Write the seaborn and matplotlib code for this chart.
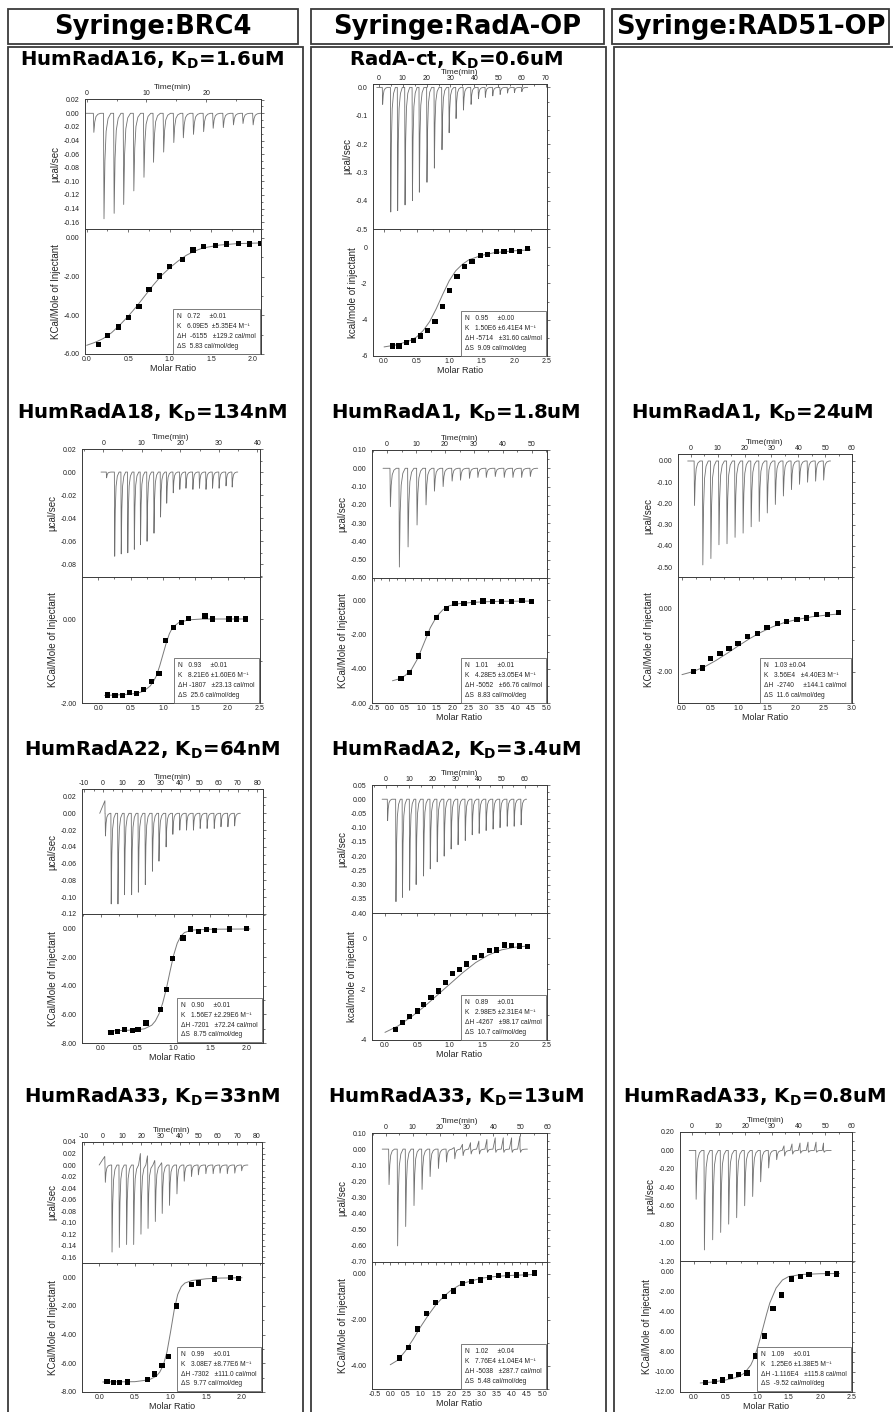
import matplotlib
matplotlib.use("Agg")
import matplotlib.pyplot as plt
import seaborn as sns
from matplotlib.patches import Rectangle
from matplotlib.ticker import FormatStrFormatter, MultipleLocator

W, H = 893, 1412

# ---------------- data ----------------
HEADERS = ["Syringe:BRC4", "Syringe:RadA-OP", "Syringe:RAD51-OP"]

# HumRadA16 (BRC4)
A16_T = [1.1, 2.8, 4.5, 6.1, 7.8, 9.5, 11.1, 12.8, 14.5, 16.1, 17.8, 19.5, 21.1, 22.8, 24.5, 26.1, 27.8]
A16_PEAK = [-0.028, -0.155, -0.147, -0.134, -0.114, -0.094, -0.072, -0.057, -0.043, -0.036, -0.031,
            -0.027, -0.022, -0.021, -0.017, -0.015, -0.017]
A16_RATIO = [0.14, 0.25, 0.38, 0.50, 0.63, 0.75, 0.88, 1.00, 1.15, 1.28, 1.41, 1.55, 1.68, 1.83, 1.96, 2.10]
A16_KCAL = [-5.50, -5.05, -4.60, -4.10, -3.54, -2.68, -1.97, -1.47, -1.10, -0.63, -0.46, -0.38, -0.32,
            -0.28, -0.32, -0.30]
A16_FIT_X = [0.0, 0.1, 0.2, 0.3, 0.4, 0.5, 0.6, 0.7, 0.8, 0.9, 1.0, 1.1, 1.2, 1.3, 1.4, 1.6, 1.8, 2.1]
A16_FIT_Y = [-5.55, -5.4, -5.2, -4.9, -4.5, -4.05, -3.55, -3.0, -2.45, -1.95, -1.55, -1.2, -0.9, -0.68,
             -0.52, -0.37, -0.3, -0.26]
A16_PARAMS = "N   0.72     ±0.01\nK   6.09E5  ±5.35E4 M⁻¹\nΔH  -6155   ±129.2 cal/mol\nΔS  5.83 cal/mol/deg"

# RadA-ct (RadA-OP)
RCT_T = [1.4, 4.8, 7.7, 10.8, 13.9, 16.8, 20.0, 23.1, 26.3, 29.3, 32.2, 35.3, 38.5, 41.6, 44.5, 47.6,
         50.7, 53.8, 56.7, 59.8]
RCT_PEAK = [-0.06, -0.44, -0.435, -0.415, -0.40, -0.37, -0.335, -0.285, -0.22, -0.16, -0.11, -0.08,
            -0.06, -0.04, -0.035, -0.03, -0.025, -0.02, -0.018, -0.015]
RCT_RATIO = [0.125, 0.23, 0.34, 0.45, 0.56, 0.67, 0.78, 0.90, 1.00, 1.12, 1.24, 1.35, 1.48, 1.59, 1.72,
             1.84, 1.96, 2.08, 2.20]
RCT_KCAL = [-5.45, -5.45, -5.25, -5.15, -4.9, -4.6, -4.1, -3.25, -2.4, -1.6, -1.05, -0.78, -0.45, -0.4,
            -0.25, -0.25, -0.17, -0.22, -0.08]
RCT_FIT_X = [0.0, 0.2, 0.4, 0.5, 0.6, 0.7, 0.8, 0.9, 1.0, 1.1, 1.2, 1.3, 1.5, 1.7, 2.0, 2.25]
RCT_FIT_Y = [-5.5, -5.38, -5.15, -4.95, -4.6, -4.1, -3.4, -2.6, -1.85, -1.3, -0.95, -0.7, -0.45, -0.3,
             -0.2, -0.15]
RCT_PARAMS = "N   0.95     ±0.00\nK   1.50E6 ±6.41E4 M⁻¹\nΔH -5714   ±31.60 cal/mol\nΔS  9.09 cal/mol/deg"

# HumRadA18 (BRC4)
A18_T = [0.8, 2.9, 4.6, 6.3, 8.0, 9.6, 11.3, 13.1, 14.8, 16.4, 18.1, 19.8, 21.4, 23.2, 24.9, 26.6, 28.3,
         30.0, 31.8, 33.4]
A18_PEAK = [-0.005, -0.073, -0.071, -0.070, -0.067, -0.063, -0.060, -0.053, -0.039, -0.027, -0.018,
            -0.015, -0.014, -0.015, -0.014, -0.015, -0.014, -0.014, -0.012, -0.013]
A18_RATIO = [0.14, 0.26, 0.37, 0.48, 0.59, 0.70, 0.82, 0.94, 1.04, 1.16, 1.29, 1.40, 1.65, 1.76, 2.02,
             2.14, 2.27]
A18_KCAL = [-1.81, -1.83, -1.83, -1.75, -1.77, -1.67, -1.49, -1.29, -0.52, -0.20, -0.09, 0.02, 0.07, 0.0,
            0.0, 0.0, 0.0]
A18_FIT_X = [0.1, 0.4, 0.6, 0.7, 0.8, 0.85, 0.9, 0.95, 1.0, 1.05, 1.1, 1.15, 1.25, 1.4, 1.6, 2.3]
A18_FIT_Y = [-1.82, -1.8, -1.77, -1.72, -1.6, -1.5, -1.35, -1.12, -0.85, -0.58, -0.35, -0.2, -0.08, -0.02,
             0.0, 0.0]
A18_PARAMS = "N   0.93     ±0.01\nK   8.21E6 ±1.60E6 M⁻¹\nΔH -1807   ±23.13 cal/mol\nΔS  25.6 cal/mol/deg"

# HumRadA1 (RadA-OP)
A1R_T = [1.0, 4.1, 7.1, 10.2, 13.3, 16.2, 19.2, 22.3, 25.2, 28.3, 31.2, 34.1, 37.2, 40.3, 43.3, 46.3, 49.3]
A1R_PEAK = [-0.21, -0.54, -0.43, -0.31, -0.20, -0.125, -0.10, -0.07, -0.065, -0.055, -0.05, -0.05,
            -0.045, -0.05, -0.05, -0.05, -0.045]
A1R_RATIO = [0.37, 0.65, 0.93, 1.20, 1.49, 1.80, 2.08, 2.37, 2.68, 2.97, 3.27, 3.56, 3.88, 4.21, 4.52]
A1R_KCAL = [-4.55, -4.22, -3.26, -1.94, -1.02, -0.48, -0.20, -0.18, -0.15, -0.04, -0.06, -0.07, -0.07,
            -0.02, -0.06]
A1R_FIT_X = [0.1, 0.3, 0.5, 0.7, 0.9, 1.1, 1.3, 1.5, 1.7, 1.9, 2.2, 2.6, 3.0, 3.5, 4.5]
A1R_FIT_Y = [-4.7, -4.6, -4.4, -4.05, -3.4, -2.5, -1.6, -0.95, -0.55, -0.32, -0.2, -0.13, -0.09, -0.06, -0.05]
A1R_PARAMS = "N   1.01     ±0.01\nK   4.28E5 ±3.05E4 M⁻¹\nΔH -5052   ±66.76 cal/mol\nΔS  8.83 cal/mol/deg"

# HumRadA1 (RAD51-OP)
A1S_T = [1.2, 4.3, 7.3, 10.3, 13.3, 16.3, 19.3, 22.3, 25.3, 28.3, 31.3, 34.3, 37.3, 40.3, 43.3, 46.3, 49.3]
A1S_PEAK = [-0.21, -0.49, -0.46, -0.395, -0.39, -0.36, -0.34, -0.31, -0.285, -0.245, -0.205, -0.165,
            -0.135, -0.11, -0.10, -0.095, -0.09]
A1S_RATIO = [0.21, 0.36, 0.51, 0.67, 0.83, 0.99, 1.16, 1.33, 1.50, 1.68, 1.85, 2.03, 2.20, 2.38, 2.57, 2.76]
A1S_KCAL = [-2.0, -1.89, -1.58, -1.43, -1.26, -1.12, -0.88, -0.79, -0.60, -0.48, -0.42, -0.34, -0.30,
            -0.20, -0.19, -0.13]
A1S_FIT_X = [0.0, 0.2, 0.4, 0.6, 0.8, 1.0, 1.2, 1.4, 1.6, 1.8, 2.0, 2.3, 2.6, 2.8]
A1S_FIT_Y = [-2.1, -2.0, -1.85, -1.65, -1.42, -1.18, -0.95, -0.75, -0.58, -0.45, -0.36, -0.26, -0.2, -0.17]
A1S_PARAMS = "N   1.03 ±0.04\nK   3.56E4   ±4.40E3 M⁻¹\nΔH  -2740     ±144.1 cal/mol\nΔS  11.6 cal/mol/deg"

# HumRadA22 (BRC4)
A22_T = [1.0, 4.0, 7.5, 10.9, 14.6, 18.1, 21.7, 25.4, 28.8, 32.5, 36.0, 39.6, 43.1, 46.7, 50.2, 53.8, 57.5,
         61.0, 64.6, 68.1]
A22_PEAK = [-0.027, -0.108, -0.108, -0.097, -0.097, -0.094, -0.085, -0.069, -0.057, -0.040, -0.025,
            -0.020, -0.020, -0.020, -0.018, -0.018, -0.018, -0.016, -0.016, -0.015]
A22_UP = [0.015] + [0.0] * 19
A22_RATIO = [0.14, 0.23, 0.33, 0.43, 0.51, 0.62, 0.82, 0.90, 0.99, 1.13, 1.23, 1.34, 1.45, 1.56, 1.77, 2.00]
A22_KCAL = [-7.25, -7.18, -7.07, -7.14, -7.07, -6.60, -5.63, -4.27, -2.07, -0.63, 0.0, -0.16, -0.05,
            -0.12, 0.0, 0.02]
A22_FIT_X = [0.1, 0.3, 0.5, 0.6, 0.7, 0.75, 0.8, 0.85, 0.9, 0.95, 1.0, 1.05, 1.1, 1.15, 1.25, 1.5, 2.05]
A22_FIT_Y = [-7.15, -7.12, -7.08, -7.0, -6.75, -6.45, -5.95, -5.2, -4.2, -3.0, -1.85, -1.0, -0.5, -0.25,
             -0.08, -0.02, 0.0]
A22_PARAMS = "N   0.90     ±0.01\nK   1.56E7 ±2.29E6 M⁻¹\nΔH -7201   ±72.24 cal/mol\nΔS  8.75 cal/mol/deg"

# HumRadA2 (RadA-OP)
A2_T = [0.6, 4.2, 7.0, 10.1, 12.9, 16.1, 19.0, 22.0, 25.0, 28.0, 31.0, 34.1, 37.1, 40.1, 43.1, 46.1, 49.1,
        52.2, 55.2, 58.2]
A2_PEAK = [-0.075, -0.36, -0.345, -0.32, -0.30, -0.27, -0.245, -0.22, -0.20, -0.175, -0.16, -0.145,
           -0.125, -0.12, -0.11, -0.105, -0.10, -0.095, -0.095, -0.09]
A2_RATIO = [0.16, 0.27, 0.38, 0.50, 0.60, 0.71, 0.82, 0.93, 1.04, 1.15, 1.26, 1.38, 1.49, 1.61, 1.72,
            1.84, 1.95, 2.08, 2.20]
A2_KCAL = [-3.58, -3.32, -3.08, -2.86, -2.61, -2.33, -2.07, -1.74, -1.37, -1.21, -1.01, -0.75, -0.68,
           -0.49, -0.46, -0.26, -0.28, -0.30, -0.33]
A2_FIT_X = [0.0, 0.2, 0.4, 0.6, 0.8, 1.0, 1.2, 1.4, 1.6, 1.8, 2.0, 2.2]
A2_FIT_Y = [-3.7, -3.45, -3.1, -2.7, -2.25, -1.8, -1.35, -0.95, -0.65, -0.45, -0.35, -0.3]
A2_PARAMS = "N   0.89     ±0.01\nK   2.98E5 ±2.31E4 M⁻¹\nΔH -4267   ±98.17 cal/mol\nΔS  10.7 cal/mol/deg"

# HumRadA33 (BRC4)
A33B_T = [1.0, 4.5, 8.3, 12.1, 15.8, 19.6, 23.3, 27.1, 30.7, 34.5, 38.4, 42.2, 46.0, 49.6, 53.5, 57.3,
          60.9, 64.7, 68.6, 72.2]
A33B_PEAK = [-0.030, -0.151, -0.143, -0.138, -0.138, -0.120, -0.110, -0.098, -0.084, -0.070, -0.050,
             -0.028, -0.020, -0.017, -0.015, -0.015, -0.014, -0.015, -0.014, -0.010]
A33B_UP = [0.015, 0.0, 0.0, 0.0, 0.0, 0.020, 0.016, 0.008, 0.004] + [0.0] * 11
A33B_RATIO = [0.11, 0.20, 0.29, 0.40, 0.68, 0.78, 0.88, 0.97, 1.08, 1.29, 1.39, 1.61, 1.84, 1.95]
A33B_KCAL = [-7.25, -7.33, -7.35, -7.30, -7.10, -6.75, -6.15, -5.50, -2.00, -0.52, -0.40, -0.12, 0.0, -0.07]
A33B_FIT_X = [0.05, 0.5, 0.7, 0.8, 0.85, 0.9, 0.95, 1.0, 1.05, 1.1, 1.15, 1.2, 1.3, 1.5, 1.7, 2.0]
A33B_FIT_Y = [-7.3, -7.28, -7.15, -6.9, -6.6, -6.1, -5.2, -3.8, -2.3, -1.2, -0.65, -0.4, -0.22, -0.1,
              -0.05, -0.03]
A33B_PARAMS = "N   0.99     ±0.01\nK   3.08E7 ±8.77E6 M⁻¹\nΔH -7302   ±111.0 cal/mol\nΔS  9.77 cal/mol/deg"

# HumRadA33 (RadA-OP)
A33R_T = [1.0, 4.2, 7.2, 10.3, 13.3, 16.3, 19.4, 22.4, 25.5, 28.6, 31.6, 34.7, 37.7, 40.8, 43.8, 46.9, 50.0]
A33R_PEAK = [-0.22, -0.60, -0.48, -0.35, -0.25, -0.17, -0.12, -0.08, -0.06, -0.04, -0.03, -0.03, -0.02,
             -0.02, -0.02, -0.02, -0.02]
A33R_UP = [0.0] * 8 + [0.01, 0.03, 0.04, 0.05, 0.06, 0.07, 0.07, 0.07, 0.08]
A33R_RATIO = [0.30, 0.60, 0.89, 1.19, 1.48, 1.78, 2.08, 2.37, 2.67, 2.97, 3.26, 3.56, 3.86, 4.15, 4.45, 4.75]
A33R_KCAL = [-3.66, -3.20, -2.40, -1.74, -1.26, -1.01, -0.76, -0.43, -0.35, -0.28, -0.16, -0.09, -0.06,
             -0.06, -0.05, 0.02]
A33R_FIT_X = [0.0, 0.25, 0.5, 0.75, 1.0, 1.25, 1.5, 1.75, 2.0, 2.25, 2.5, 3.0, 3.5, 4.0, 4.75]
A33R_FIT_Y = [-3.95, -3.75, -3.35, -2.85, -2.3, -1.8, -1.35, -1.0, -0.72, -0.52, -0.38, -0.2, -0.12,
              -0.08, -0.04]
A33R_PARAMS = "N   1.02     ±0.04\nK   7.76E4 ±1.04E4 M⁻¹\nΔH -5038   ±287.7 cal/mol\nΔS  5.48 cal/mol/deg"

# HumRadA33 (RAD51-OP)
A33S_T = [1.4, 4.5, 7.6, 10.6, 13.6, 16.6, 19.6, 22.6, 25.6, 28.6, 31.6, 34.6, 37.6, 40.6, 43.6, 46.6, 49.4]
A33S_PEAK = [-0.53, -1.08, -0.97, -0.89, -0.80, -0.73, -0.60, -0.50, -0.34, -0.19, -0.10, -0.06, -0.04,
             -0.03, -0.02, -0.02, -0.02]
A33S_UP = [0.0] * 11 + [0.05, 0.07, 0.08, 0.09, 0.09, 0.08]
A33S_RATIO = [0.18, 0.32, 0.45, 0.58, 0.71, 0.84, 0.98, 1.12, 1.25, 1.39, 1.54, 1.68, 1.82, 2.11, 2.26]
A33S_KCAL = [-11.07, -10.97, -10.8, -10.45, -10.28, -10.1, -8.4, -6.4, -3.65, -2.3, -0.7, -0.45, -0.25,
             -0.13, -0.2]
A33S_FIT_X = [0.1, 0.3, 0.5, 0.7, 0.8, 0.9, 0.95, 1.0, 1.05, 1.1, 1.15, 1.2, 1.3, 1.4, 1.5, 1.7, 2.0, 2.3]
A33S_FIT_Y = [-11.1, -11.0, -10.8, -10.5, -10.1, -9.3, -8.6, -7.7, -6.6, -5.4, -4.2, -3.1, -1.6, -0.8,
              -0.45, -0.25, -0.17, -0.15]
A33S_PARAMS = "N   1.09     ±0.01\nK   1.25E6 ±1.38E5 M⁻¹\nΔH -1.116E4   ±115.8 cal/mol\nΔS  -9.52 cal/mol/deg"

# ---------------- layout (pixel boxes in the 893x1412 canvas) ----------------
PANELS = [
    dict(title="HumRadA16", kd="1.6uM", cx=152, ty=60, x=(85, 261), y=(99, 229, 354),
         t=A16_T, peak=A16_PEAK, up=None, ratio=A16_RATIO, kcal=A16_KCAL, fx=A16_FIT_X, fy=A16_FIT_Y,
         params=A16_PARAMS, txlim=(-0.3, 29.2), tylim=(-0.17, 0.021), tystep=0.02, tyfmt="%.2f",
         bxlim=(-0.02, 2.1), bylim=(-6.0, 0.46), bystep=2, byfmt="%.2f", bxstep=0.5,
         ylab="KCal/Mole of Injectant", xlab=True),
    dict(title="RadA-ct", kd="0.6uM", cx=456, ty=60, x=(373, 547), y=(84, 229, 356),
         t=RCT_T, peak=RCT_PEAK, up=None, ratio=RCT_RATIO, kcal=RCT_KCAL, fx=RCT_FIT_X, fy=RCT_FIT_Y,
         params=RCT_PARAMS, txlim=(-2.5, 70.5), tylim=(-0.5, 0.012), tystep=0.1, tyfmt="%.1f",
         bxlim=(-0.17, 2.5), bylim=(-6.0, 1.0), bystep=2, byfmt="%d", bxstep=0.5,
         ylab="kcal/mole of injectant", xlab=True),
    dict(title="HumRadA18", kd="134nM", cx=152, ty=413, x=(82, 260), y=(449, 577, 703),
         t=A18_T, peak=A18_PEAK, up=None, ratio=A18_RATIO, kcal=A18_KCAL, fx=A18_FIT_X, fy=A18_FIT_Y,
         params=A18_PARAMS, txlim=(-5.5, 40.7), tylim=(-0.091, 0.02), tystep=0.02, tyfmt="%.2f",
         bxlim=(-0.25, 2.5), bylim=(-2.0, 1.0), bystep=2, byfmt="%.2f", bxstep=0.5,
         ylab="KCal/Mole of Injectant", xlab=False),
    dict(title="HumRadA1", kd="1.8uM", cx=456, ty=413, x=(372, 547), y=(450, 578, 703),
         t=A1R_T, peak=A1R_PEAK, up=None, ratio=A1R_RATIO, kcal=A1R_KCAL, fx=A1R_FIT_X, fy=A1R_FIT_Y,
         params=A1R_PARAMS, txlim=(-5.2, 55.2), tylim=(-0.6, 0.1), tystep=0.1, tyfmt="%.2f",
         bxlim=(-0.55, 5.0), bylim=(-6.0, 1.3), bystep=2, byfmt="%.2f", bxstep=0.5,
         ylab="KCal/Mole of Injectant", xlab=True),
    dict(title="HumRadA1", kd="24uM", cx=752, ty=413, x=(678, 852), y=(454, 577, 703),
         t=A1S_T, peak=A1S_PEAK, up=None, ratio=A1S_RATIO, kcal=A1S_KCAL, fx=A1S_FIT_X, fy=A1S_FIT_Y,
         params=A1S_PARAMS, txlim=(-4.8, 60), tylim=(-0.547, 0.033), tystep=0.1, tyfmt="%.2f",
         bxlim=(-0.07, 3.0), bylim=(-3.0, 1.0), bystep=2, byfmt="%.2f", bxstep=0.5,
         ylab="KCal/Mole of Injectant", xlab=True),
    dict(title="HumRadA22", kd="64nM", cx=152, ty=750, x=(82, 263), y=(789, 914, 1043),
         t=A22_T, peak=A22_PEAK, up=A22_UP, ratio=A22_RATIO, kcal=A22_KCAL, fx=A22_FIT_X, fy=A22_FIT_Y,
         params=A22_PARAMS, txlim=(-11, 83), tylim=(-0.12, 0.029), tystep=0.02, tyfmt="%.2f",
         bxlim=(-0.26, 2.23), bylim=(-8.0, 1.05), bystep=2, byfmt="%.2f", bxstep=0.5,
         ylab="KCal/Mole of Injectant", xlab=True),
    dict(title="HumRadA2", kd="3.4uM", cx=456, ty=750, x=(372, 547), y=(785, 913, 1040),
         t=A2_T, peak=A2_PEAK, up=None, ratio=A2_RATIO, kcal=A2_KCAL, fx=A2_FIT_X, fy=A2_FIT_Y,
         params=A2_PARAMS, txlim=(-6, 69.5), tylim=(-0.40, 0.05), tystep=0.05, tyfmt="%.2f",
         bxlim=(-0.2, 2.5), bylim=(-4.0, 1.0), bystep=2, byfmt="%d", bxstep=0.5,
         ylab="kcal/mole of injectant", xlab=True),
    dict(title="HumRadA33", kd="33nM", cx=152, ty=1097, x=(82, 262), y=(1142, 1263, 1392),
         t=A33B_T, peak=A33B_PEAK, up=A33B_UP, ratio=A33B_RATIO, kcal=A33B_KCAL, fx=A33B_FIT_X,
         fy=A33B_FIT_Y, params=A33B_PARAMS, txlim=(-11, 83), tylim=(-0.17, 0.04), tystep=0.02,
         tyfmt="%.2f", bxlim=(-0.24, 2.28), bylim=(-8.0, 1.0), bystep=2, byfmt="%.2f", bxstep=0.5,
         ylab="KCal/Mole of Injectant", xlab=True),
    dict(title="HumRadA33", kd="13uM", cx=456, ty=1097, x=(372, 547), y=(1133, 1262, 1389),
         t=A33R_T, peak=A33R_PEAK, up=A33R_UP, ratio=A33R_RATIO, kcal=A33R_KCAL, fx=A33R_FIT_X,
         fy=A33R_FIT_Y, params=A33R_PARAMS, txlim=(-5.2, 60), tylim=(-0.7, 0.1), tystep=0.1,
         tyfmt="%.2f", bxlim=(-0.6, 5.15), bylim=(-5.0, 0.5), bystep=2, byfmt="%.2f", bxstep=0.5,
         ylab="KCal/Mole of Injectant", xlab=True),
    dict(title="HumRadA33", kd="0.8uM", cx=755, ty=1097, x=(680, 852), y=(1132, 1261, 1392),
         t=A33S_T, peak=A33S_PEAK, up=A33S_UP, ratio=A33S_RATIO, kcal=A33S_KCAL, fx=A33S_FIT_X,
         fy=A33S_FIT_Y, params=A33S_PARAMS, txlim=(-4.5, 60), tylim=(-1.2, 0.2), tystep=0.2,
         tyfmt="%.2f", bxlim=(-0.22, 2.5), bylim=(-12.0, 1.1), bystep=2, byfmt="%.2f", bxstep=0.5,
         ylab="KCal/Mole of Injectant", xlab=True),
]

# spike drawing shape (fraction of the injection spacing, fraction of the peak)
SPIKE_DT = [0.0, 0.05, 0.14, 0.26, 0.45, 0.72]
SPIKE_FR = [0.0, 1.0, 0.45, 0.17, 0.05, 0.0]

sns.set_style("white")
plt.rcParams['font.family'] = ['Liberation Sans', 'DejaVu Sans']
plt.rcParams['mathtext.fontset'] = 'dejavusans'
plt.rcParams['axes.unicode_minus'] = False

fig = plt.figure(figsize=(W / 100, H / 100), dpi=100)
EDGE = '#3a3a3a'


def px_axes(x0, y0, x1, y1):
    return fig.add_axes([x0 / W, 1 - y1 / H, (x1 - x0) / W, (y1 - y0) / H])


def fig_rect(x0, y0, x1, y1, lw=1.3):
    fig.add_artist(Rectangle((x0 / W, 1 - y1 / H), (x1 - x0) / W, (y1 - y0) / H,
                             transform=fig.transFigure, fill=False, ec=EDGE, lw=lw))


def thermo_trace(times, peaks, ups):
    step = times[2] - times[1]
    xs, ys = [times[0] - 0.8 * step], [0.0]
    for i, (t, p) in enumerate(zip(times, peaks)):
        u = ups[i] if ups is not None else 0.0
        if u:
            xs += [t - 0.03 * step, t - 0.015 * step]
            ys += [u, 0.0]
        for dt, fr in zip(SPIKE_DT, SPIKE_FR):
            xs.append(t + dt * step)
            ys.append(p * fr)
    xs.append(times[-1] + 0.9 * step)
    ys.append(0.0)
    return xs, ys


def style(ax):
    for s in ax.spines.values():
        s.set_color(EDGE)
        s.set_linewidth(0.7)
    ax.tick_params(which='both', labelsize=5, width=0.5, color=EDGE, pad=1.5,
                   top=True, right=True, direction='in', labelcolor='#222222')
    ax.tick_params(which='major', length=2.5)
    ax.tick_params(which='minor', length=1.4)
    ax.tick_params(axis='y', which='both', direction='out')
    ax.grid(False)


for header, (x0, x1) in zip(HEADERS, [(8, 298), (311, 604), (612, 889)]):
    fig_rect(x0, 9, x1, 44)
    fig.text((x0 + x1) / 2 / W, 1 - 27.5 / H, header, ha='center', va='center',
             fontsize=18.5, fontweight='bold', family='DejaVu Sans', color='black')
for x0, x1 in [(8, 303), (311, 606), (614, 905)]:
    fig_rect(x0, 47, x1, 1420)

for p in PANELS:
    fig.text(p['cx'] / W, 1 - p['ty'] / H, p['title'] + r", K$_\mathbf{D}$=" + p['kd'],
             ha='center', va='center', fontsize=14.2, fontweight='bold', family='DejaVu Sans',
             color='black')
    xa, xb = p['x']
    ya, ym, yb = p['y']

    # raw thermogram
    ax = px_axes(xa, ya, xb, ym)
    tx, ty = thermo_trace(p['t'], p['peak'], p['up'])
    sns.lineplot(x=tx, y=ty, ax=ax, sort=False, estimator=None, color='#707070', lw=0.6)
    ax.set_xlim(*p['txlim'])
    ax.set_ylim(*p['tylim'])
    ax.xaxis.set_major_locator(MultipleLocator(10))
    ax.xaxis.set_minor_locator(MultipleLocator(5))
    ax.yaxis.set_major_locator(MultipleLocator(p['tystep']))
    ax.yaxis.set_minor_locator(MultipleLocator(p['tystep'] / 2))
    ax.yaxis.set_major_formatter(FormatStrFormatter(p['tyfmt']))
    style(ax)
    ax.tick_params(axis='x', labeltop=True, labelbottom=False)
    ax.xaxis.set_label_position('top')
    ax.set_xlabel("Time(min)", fontsize=6, labelpad=1)
    ax.set_ylabel("µcal/sec", fontsize=7, labelpad=2)

    # binding isotherm
    bx = px_axes(xa, ym, xb, yb)
    sns.lineplot(x=p['fx'], y=p['fy'], ax=bx, sort=False, estimator=None, color='#7a7a7a', lw=0.7)
    sns.scatterplot(x=p['ratio'], y=p['kcal'], ax=bx, marker='s', s=14, color='black',
                    edgecolor='none', zorder=3)
    bx.set_xlim(*p['bxlim'])
    bx.set_ylim(*p['bylim'])
    bx.xaxis.set_major_locator(MultipleLocator(p['bxstep']))
    bx.xaxis.set_minor_locator(MultipleLocator(p['bxstep'] / 2))
    bx.yaxis.set_major_locator(MultipleLocator(p['bystep']))
    bx.yaxis.set_minor_locator(MultipleLocator(p['bystep'] / 2))
    bx.xaxis.set_major_formatter(FormatStrFormatter("%.1f"))
    bx.yaxis.set_major_formatter(FormatStrFormatter(p['byfmt']))
    style(bx)
    bx.set_ylabel(p['ylab'], fontsize=7, labelpad=2)
    if p['xlab']:
        bx.set_xlabel("Molar Ratio", fontsize=6.5, labelpad=0.5)
    else:
        bx.set_xlabel("")
    bx.text(0.97, 0.035, p['params'], transform=bx.transAxes, ha='right', va='bottom',
            multialignment='left', fontsize=4.8, linespacing=1.55,
            bbox=dict(boxstyle='square,pad=0.6', fc='white', ec='#666666', lw=0.6))

fig.savefig("out.png", dpi=100)
